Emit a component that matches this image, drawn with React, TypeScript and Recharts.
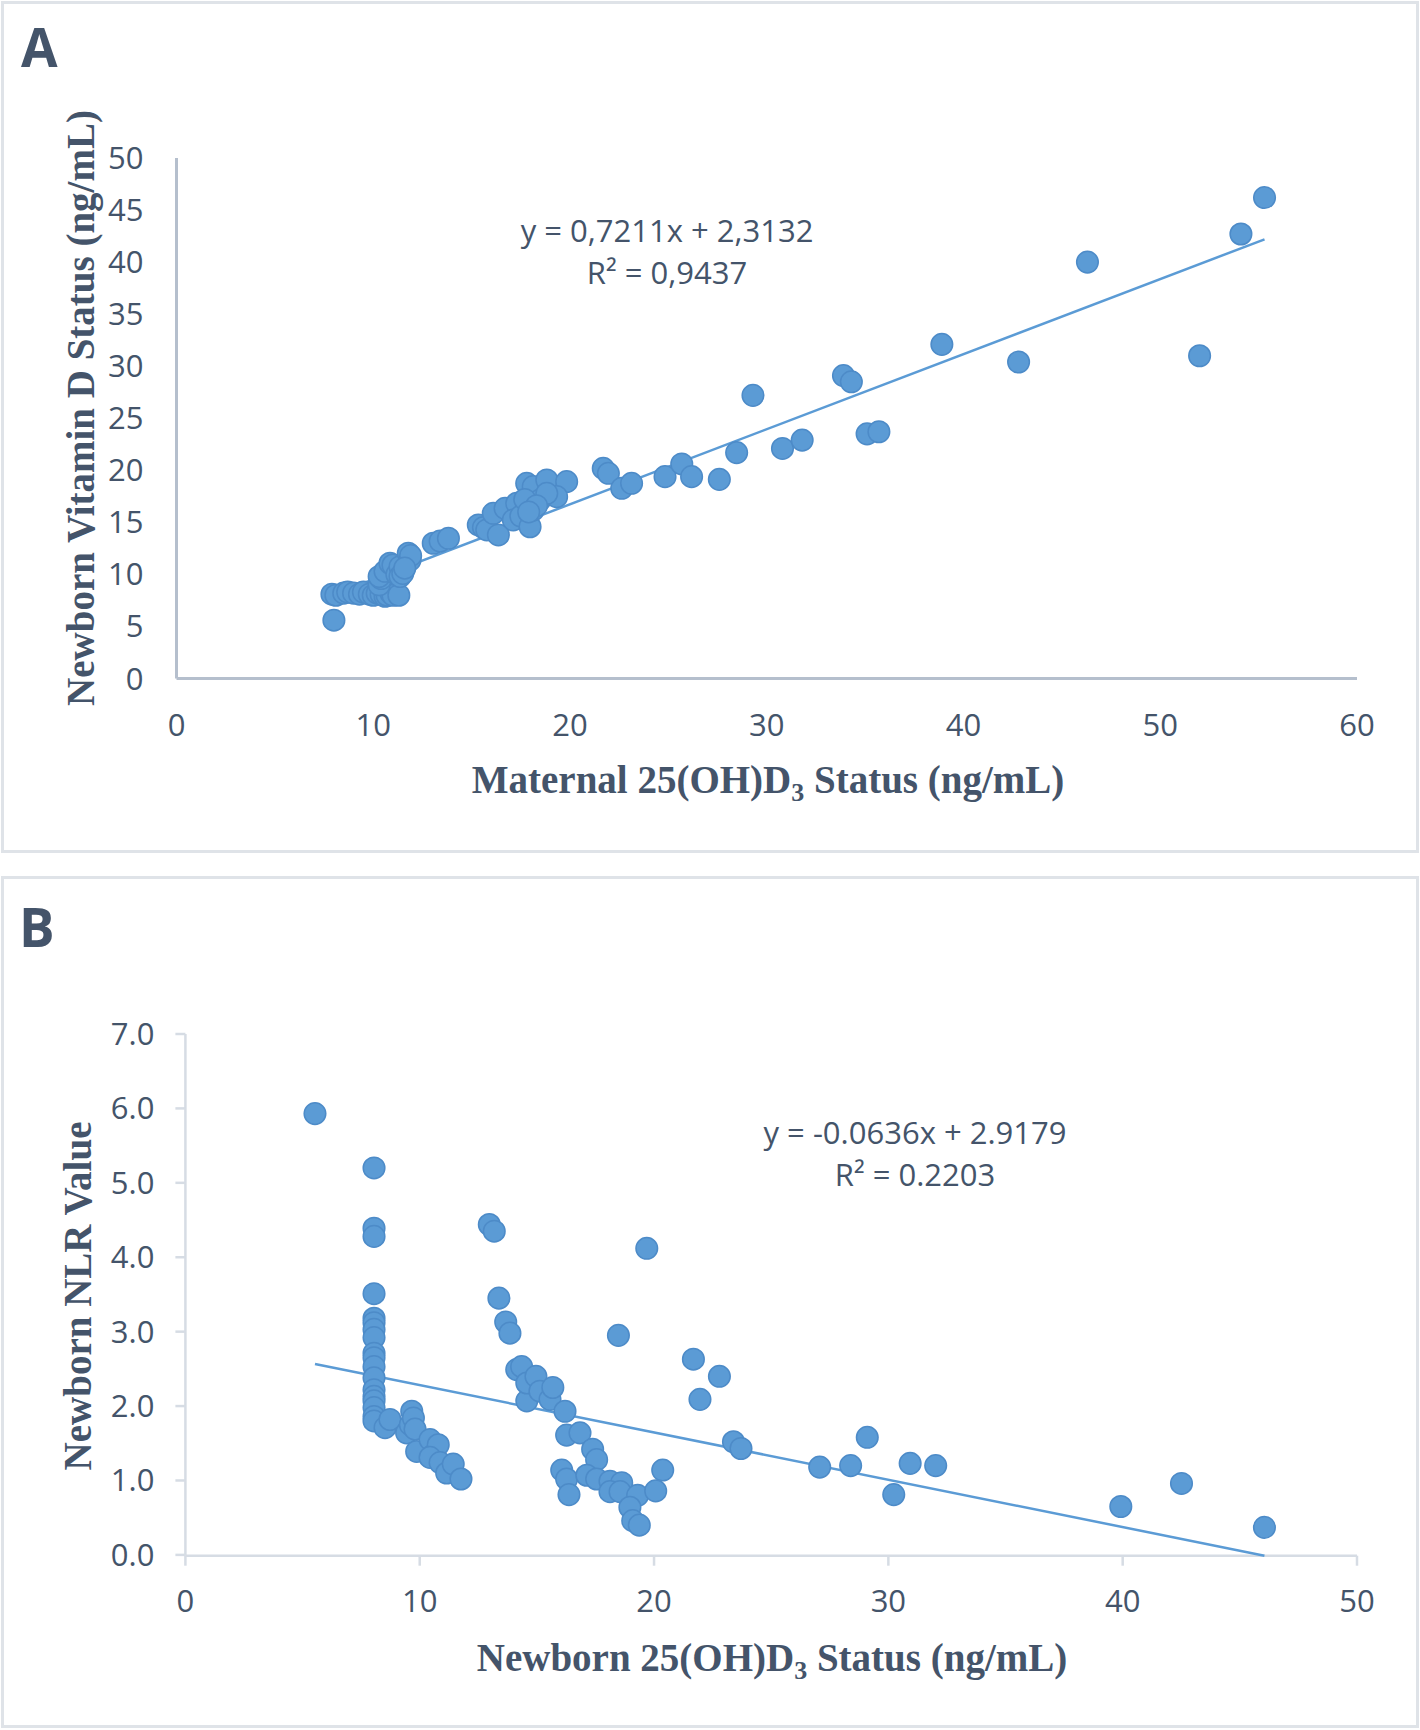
import React from 'react';
import { ScatterChart, Scatter, XAxis, YAxis } from 'recharts';

// Panel A: maternal vs newborn 25(OH)D3 (ng/mL)
const maternalA = [
  7.9, 8.1, 8.5, 8.7, 9.0, 9.3, 9.5, 9.8, 10.0, 10.2, 10.4, 10.6, 10.7, 10.9, 11.0, 11.3,
  8.0,
  10.3, 10.4, 10.3, 10.6, 10.85, 11.0, 11.2, 11.36, 11.36, 11.5, 11.78, 11.87, 11.9, 11.6,
  13.05, 13.4, 13.82, 15.34, 15.6, 15.77, 16.36, 16.1, 16.7, 17.29, 17.12, 17.5, 17.97,
  17.8, 18.13, 18.82, 19.83, 18.13, 18.47, 19.32, 18.82, 17.7, 18.3, 17.9,
  21.69, 21.95, 22.63, 23.13, 24.83, 25.68, 26.18, 27.59, 28.47, 29.3, 30.8, 31.8,
  33.9, 34.3, 35.1, 35.7, 38.9, 42.8, 46.3, 52.0, 54.1, 55.3,
];
const newbornA = [
  8.1, 8.0, 8.2, 8.3, 8.2, 8.1, 8.3, 8.1, 8.0, 8.2, 8.1, 7.9, 8.0, 8.2, 8.0, 8.0,
  5.6,
  9.0, 9.6, 9.8, 10.3, 11.07, 10.9, 10.0, 10.74, 9.8, 10.1, 12.03, 11.38, 11.8, 10.6,
  12.99, 13.2, 13.47, 14.75, 14.5, 14.27, 13.79, 15.87, 16.35, 16.83, 15.23, 15.6, 14.58,
  18.75, 18.43, 19.07, 18.91, 16.19, 17.15, 17.47, 17.79, 17.2, 16.6, 16.0,
  20.19, 19.71, 18.27, 18.75, 19.39, 20.61, 19.39, 19.13, 21.7, 27.2, 22.1, 22.9,
  29.1, 28.5, 23.5, 23.7, 32.1, 30.4, 40.0, 31.0, 42.7, 46.2,
];

// Panel B: newborn 25(OH)D3 vs newborn NLR
const newbornB = [
  5.53,
  8.05, 8.05, 8.05, 8.05, 8.05, 8.05, 8.05, 8.05, 8.05, 8.05, 8.05, 8.05, 8.05, 8.05, 8.05, 8.05, 8.05, 8.05,
  8.52, 8.73, 9.44, 9.6, 9.66, 9.73, 9.8, 9.87, 10.44, 10.6, 10.79, 10.44, 10.87, 11.15, 11.43, 11.76,
  12.97, 13.18, 13.38, 13.67, 13.85, 14.14, 14.35, 14.57, 14.57, 14.96, 15.13, 15.56, 15.68, 16.2,
  16.27, 16.84, 16.06, 16.27, 16.37, 17.38, 17.55, 17.13, 17.55, 18.12, 18.62, 18.12, 18.55,
  19.3, 18.97, 19.09, 19.37, 20.07, 20.37, 18.48, 19.69,
  21.68, 21.96, 22.79, 23.39, 23.71, 27.07, 28.39, 29.1, 30.23, 30.93, 32.02, 39.92, 42.51, 46.05,
];
const nlrB = [
  5.93,
  5.2, 4.39, 4.28, 3.51, 3.18, 3.12, 3.03, 2.92, 2.71, 2.65, 2.53, 2.38, 2.22, 2.13, 2.07, 1.98, 1.86, 1.8,
  1.71, 1.82, 1.64, 1.75, 1.93, 1.84, 1.69, 1.39, 1.55, 1.35, 1.48, 1.31, 1.24, 1.1, 1.22, 1.02,
  4.44, 4.35, 3.45, 3.13, 2.98, 2.49, 2.53, 2.07, 2.31, 2.4, 2.2, 2.09, 2.25, 1.93,
  1.61, 1.64, 1.14, 1.02, 0.81, 1.42, 1.28, 1.07, 1.02, 0.99, 0.97, 0.85, 0.85,
  0.8, 0.64, 0.46, 0.4, 0.86, 1.14, 2.95, 4.12,
  2.63, 2.09, 2.4, 1.52, 1.43, 1.18, 1.2, 1.58, 0.81, 1.23, 1.2, 0.65, 0.96, 0.37,
];

const ticksAX = [0, 10, 20, 30, 40, 50, 60];
const ticksAY = [0, 5, 10, 15, 20, 25, 30, 35, 40, 45, 50];
const ticksBX = [0, 10, 20, 30, 40, 50];
const ticksBY = [0, 1, 2, 3, 4, 5, 6, 7];

// trendline coefficients as printed on the chart
const fitA = { slope: 0.7211, intercept: 2.3132 };
const fitB = { slope: -0.0636, intercept: 2.9179 };

const BLUE = '#5b9bd5';
const TEXT = '#44546a';

const pairs = (xs: number[], ys: number[]) => xs.map((x, i) => ({ x, y: ys[i] }));
const trend = (xs: number[], fit: { slope: number; intercept: number }) => {
  const lo = Math.min(...xs);
  const hi = Math.max(...xs);
  return [
    { x: lo, y: fit.slope * lo + fit.intercept },
    { x: hi, y: fit.slope * hi + fit.intercept },
  ];
};

const Dot = (props: any) => (
  <circle cx={props.cx} cy={props.cy} r={10.8} fill={BLUE} stroke="#4d8bc8" strokeWidth={1.5} />
);
const NoDot = () => <g />;

const tickFont = { fill: TEXT, fontSize: 31, fontFamily: 'Open Sans' };

const titleStyle: React.CSSProperties = {
  position: 'absolute',
  fontFamily: 'Liberation Serif',
  fontWeight: 'bold',
  fontSize: 39,
  color: TEXT,
  whiteSpace: 'nowrap',
  lineHeight: 1,
};

const eqStyle: React.CSSProperties = {
  position: 'absolute',
  fontFamily: 'Open Sans',
  fontSize: 31,
  color: TEXT,
  whiteSpace: 'nowrap',
  transform: 'translate(-50%, -50%)',
  lineHeight: 1,
};

const panelLetter: React.CSSProperties = {
  position: 'absolute',
  fontFamily: 'Open Sans',
  fontWeight: 'bold',
  fontSize: 53,
  color: TEXT,
  lineHeight: 1,
};

function PanelA() {
  return (
    <div style={{ position: 'absolute', left: 0, top: 0, width: 1420, height: 854 }}>
      <div style={{ position: 'absolute', left: 1, top: 1, width: 1418, height: 852, border: '3px solid #dfe3e8', boxSizing: 'border-box' }} />
      <div style={{ ...panelLetter, left: 21, top: 20 }}>A</div>
      <ScatterChart width={1420} height={854} margin={{ top: 158, right: 63, bottom: 115.5, left: 96.5 }}>
        <XAxis
          type="number"
          dataKey="x"
          domain={[0, 60]}
          ticks={ticksAX}
          height={60}
          axisLine={{ stroke: '#b5bfcd', strokeWidth: 3 }}
          tickLine={false}
          tickSize={0}
          tickMargin={35}
          tick={tickFont}
        />
        <YAxis
          type="number"
          dataKey="y"
          domain={[0, 50]}
          ticks={ticksAY}
          width={80}
          axisLine={{ stroke: '#b5bfcd', strokeWidth: 3 }}
          tickLine={false}
          tickSize={0}
          tickMargin={33}
          tick={tickFont}
        />
        <Scatter data={trend(maternalA, fitA)} line={{ stroke: BLUE, strokeWidth: 2.5 }} shape={NoDot} isAnimationActive={false} />
        <Scatter data={pairs(maternalA, newbornA)} shape={Dot} isAnimationActive={false} />
      </ScatterChart>
      <div style={{ ...eqStyle, left: 667, top: 230 }}>y = 0,7211x + 2,3132</div>
      <div style={{ ...eqStyle, left: 667, top: 272 }}>R² = 0,9437</div>
      <div style={{ ...titleStyle, left: 80, top: 408, transform: 'translate(-50%, -50%) rotate(-90deg)' }}>
        Newborn Vitamin D Status (ng/mL)
      </div>
      <div style={{ ...titleStyle, left: 768, top: 783, transform: 'translate(-50%, -50%)' }}>
        Maternal 25(OH)D<sub style={{ fontSize: 26 }}>3</sub> Status (ng/mL)
      </div>
    </div>
  );
}

function PanelB() {
  return (
    <div style={{ position: 'absolute', left: 0, top: 870, width: 1420, height: 860 }}>
      <div style={{ position: 'absolute', left: 1, top: 6, width: 1418, height: 852, border: '3px solid #dfe3e8', boxSizing: 'border-box' }} />
      <div style={{ ...panelLetter, left: 19, top: 30 }}>B</div>
      <ScatterChart width={1420} height={860} margin={{ top: 164, right: 63, bottom: 114.3, left: 105.4 }}>
        <XAxis
          type="number"
          dataKey="x"
          domain={[0, 50]}
          ticks={ticksBX}
          height={60}
          axisLine={{ stroke: '#d6dce4', strokeWidth: 2.5 }}
          tickLine={{ stroke: '#d6dce4', strokeWidth: 2.5 }}
          tickSize={10}
          tickMargin={24}
          tick={tickFont}
        />
        <YAxis
          type="number"
          dataKey="y"
          domain={[0, 7]}
          ticks={ticksBY}
          width={80}
          axisLine={{ stroke: '#d6dce4', strokeWidth: 2.5 }}
          tickLine={{ stroke: '#d6dce4', strokeWidth: 2.5 }}
          tickSize={10}
          tickMargin={21}
          tickFormatter={(v: number) => v.toFixed(1)}
          tick={tickFont}
        />
        <Scatter data={trend(newbornB, fitB)} line={{ stroke: BLUE, strokeWidth: 2.5 }} shape={NoDot} isAnimationActive={false} />
        <Scatter data={pairs(newbornB, nlrB)} shape={Dot} isAnimationActive={false} />
      </ScatterChart>
      <div style={{ ...eqStyle, left: 915, top: 262 }}>y = -0.0636x + 2.9179</div>
      <div style={{ ...eqStyle, left: 915, top: 304 }}>R² = 0.2203</div>
      <div style={{ ...titleStyle, left: 77, top: 426, transform: 'translate(-50%, -50%) rotate(-90deg)' }}>
        Newborn NLR Value
      </div>
      <div style={{ ...titleStyle, left: 772, top: 791, transform: 'translate(-50%, -50%)' }}>
        Newborn 25(OH)D<sub style={{ fontSize: 26 }}>3</sub> Status (ng/mL)
      </div>
    </div>
  );
}

export default function App() {
  return (
    <div style={{ position: 'absolute', left: 0, top: 0, width: 1420, height: 1730, background: '#ffffff' }}>
      <PanelA />
      <PanelB />
    </div>
  );
}
